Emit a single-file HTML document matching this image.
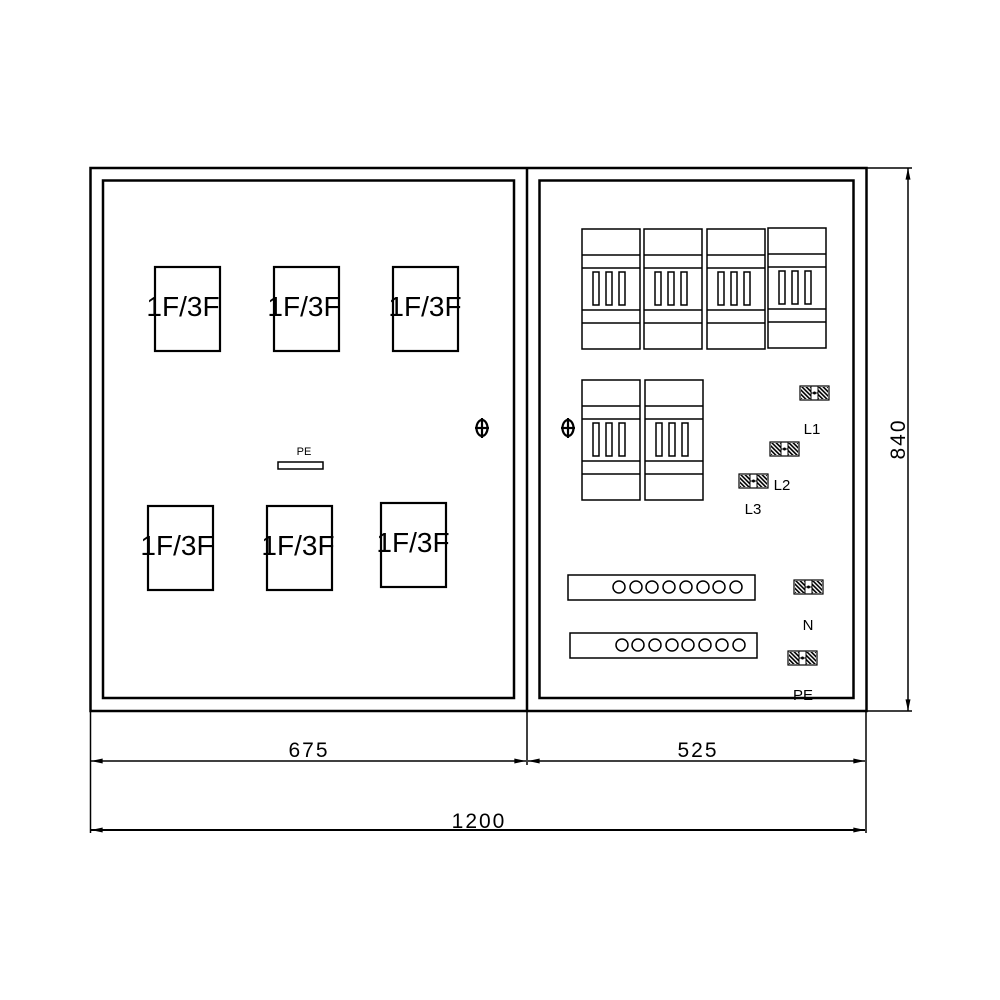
<!DOCTYPE html>
<html><head><meta charset="utf-8"><style>html,body{margin:0;padding:0;background:#fff}svg{display:block}</style></head>
<body>
<svg width="1000" height="1000" viewBox="0 0 1000 1000" xmlns="http://www.w3.org/2000/svg" font-family="Liberation Sans, DejaVu Sans, sans-serif">
<defs>
<pattern id="h" width="3" height="3" patternUnits="userSpaceOnUse" patternTransform="rotate(-45)">
<rect width="3" height="3" fill="#fff"/><rect width="1.6" height="3" fill="#000"/></pattern>
<g id="term">
<rect x="0" y="0" width="29" height="14" fill="#fff" stroke="#000" stroke-width="1.2"/>
<rect x="1" y="1" width="10" height="12" fill="url(#h)"/>
<rect x="18" y="1" width="10" height="12" fill="url(#h)"/>
<line x1="11" y1="0" x2="11" y2="14" stroke="#000"/><line x1="18" y1="0" x2="18" y2="14" stroke="#000"/>
<line x1="11" y1="7" x2="18" y2="7" stroke="#000"/><circle cx="14.5" cy="7" r="1.5"/>
</g>
<g id="brk" fill="none" stroke="#000" stroke-width="1.5">
<rect x="0" y="0" width="58" height="120"/>
<line x1="0" y1="26" x2="58" y2="26"/><line x1="0" y1="39" x2="58" y2="39"/>
<line x1="0" y1="81" x2="58" y2="81"/><line x1="0" y1="94" x2="58" y2="94"/>
<rect x="11" y="43" width="6" height="33"/><rect x="24" y="43" width="6" height="33"/><rect x="37" y="43" width="6" height="33"/>
</g>
<marker id="a" viewBox="0 0 14 6" refX="14" refY="3" markerWidth="13" markerHeight="5" markerUnits="userSpaceOnUse" orient="auto-start-reverse"><path d="M0,0 L14,3 L0,6 z"/></marker>
</defs>
<g fill="none" stroke="#000">
<rect x="90.5" y="168" width="776" height="543" stroke-width="2.5"/>
<line x1="527" y1="168" x2="527" y2="711" stroke-width="2.5"/>
<rect x="103" y="180.5" width="411" height="517.5" stroke-width="2.5"/>
<rect x="539.5" y="180.5" width="314" height="517.5" stroke-width="2.5"/>
<g stroke-width="2.2">
<rect x="155" y="267" width="65" height="84"/><rect x="274" y="267" width="65" height="84"/><rect x="393" y="267" width="65" height="84"/>
<rect x="148" y="506" width="65" height="84"/><rect x="267" y="506" width="65" height="84"/><rect x="381" y="503" width="65" height="84"/>
</g>
<rect x="278" y="462" width="45" height="7" stroke-width="1.5"/>
<g stroke-width="1.5">
<line x1="866" y1="168" x2="912" y2="168"/><line x1="866" y1="711" x2="912" y2="711"/>
<line x1="908" y1="711" x2="908" y2="168" marker-end="url(#a)" marker-start="url(#a)"/>
<line x1="90.5" y1="711" x2="90.5" y2="833"/><line x1="527" y1="711" x2="527" y2="765"/><line x1="866" y1="711" x2="866" y2="833"/>
<line x1="91" y1="761" x2="526" y2="761" marker-start="url(#a)" marker-end="url(#a)"/>
<line x1="528" y1="761" x2="865" y2="761" marker-start="url(#a)" marker-end="url(#a)"/>
<line x1="91" y1="830" x2="865" y2="830" marker-start="url(#a)" marker-end="url(#a)" stroke-width="2"/>
</g>
<g stroke-width="1.5">
<rect x="568" y="575" width="187" height="25"/><rect x="570" y="633" width="187" height="25"/>
</g>
<g stroke-width="1.5">
<circle cx="619" cy="587" r="6"/><circle cx="636" cy="587" r="6"/><circle cx="652" cy="587" r="6"/><circle cx="669" cy="587" r="6"/><circle cx="686" cy="587" r="6"/><circle cx="703" cy="587" r="6"/><circle cx="719" cy="587" r="6"/><circle cx="736" cy="587" r="6"/>
<circle cx="622" cy="645" r="6"/><circle cx="638" cy="645" r="6"/><circle cx="655" cy="645" r="6"/><circle cx="672" cy="645" r="6"/><circle cx="688" cy="645" r="6"/><circle cx="705" cy="645" r="6"/><circle cx="722" cy="645" r="6"/><circle cx="739" cy="645" r="6"/>
</g>
<g stroke-width="2.2">
<ellipse cx="482" cy="428" rx="5.5" ry="8"/><line x1="475" y1="428" x2="489" y2="428"/><line x1="482" y1="418" x2="482" y2="438"/>
<ellipse cx="568" cy="428" rx="5.5" ry="8"/><line x1="561" y1="428" x2="575" y2="428"/><line x1="568" y1="418" x2="568" y2="438"/>
</g>
</g>
<use href="#brk" x="582" y="229"/><use href="#brk" x="644" y="229"/><use href="#brk" x="707" y="229"/><use href="#brk" x="768" y="228"/>
<use href="#brk" x="582" y="380"/><use href="#brk" x="645" y="380"/>
<use href="#term" x="800" y="386"/><use href="#term" x="770" y="442"/><use href="#term" x="739" y="474"/>
<use href="#term" x="794" y="580"/><use href="#term" x="788" y="651"/>
<g font-size="28" text-anchor="middle" fill="#000">
<text x="183" y="316">1F/3F</text><text x="304" y="316">1F/3F</text><text x="425" y="316">1F/3F</text>
<text x="177" y="555">1F/3F</text><text x="298" y="555">1F/3F</text><text x="413" y="552">1F/3F</text>
</g>
<g font-size="15" text-anchor="middle">
<text x="812" y="434">L1</text><text x="782" y="490">L2</text><text x="753" y="514">L3</text>
<text x="808" y="630">N</text><text x="803" y="700">PE</text>
</g>
<text x="304" y="455" font-size="11" text-anchor="middle">PE</text>
<g font-size="21" text-anchor="middle" letter-spacing="2">
<text x="309" y="757">675</text><text x="698" y="757">525</text><text x="479" y="828">1200</text>
<text transform="translate(905,439) rotate(-90)">840</text>
</g>
</svg>
</body></html>
